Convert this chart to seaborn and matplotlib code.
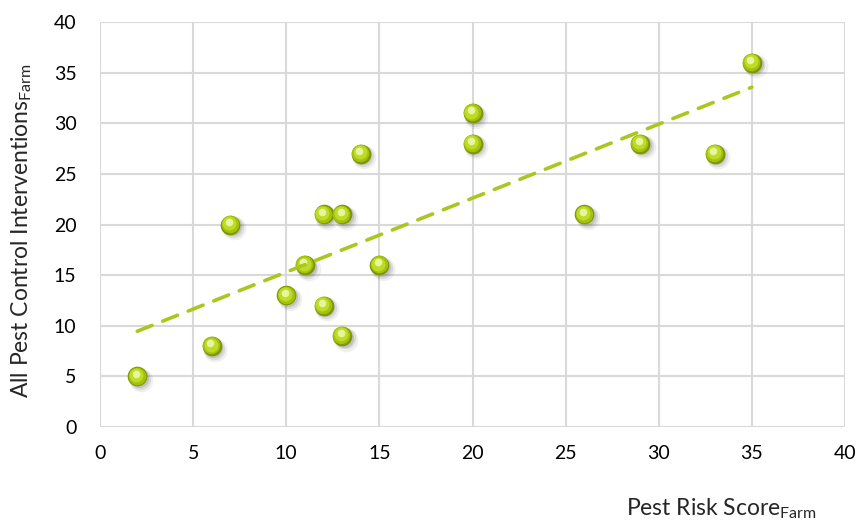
import numpy as np
import pandas as pd
import matplotlib
matplotlib.use("Agg")
import matplotlib.pyplot as plt
import seaborn as sns

# Farm observations
risk_score = [2, 6, 7, 10, 11, 12, 12, 13, 13, 14, 15, 20, 20, 26, 29, 33, 35]
interventions = [5, 8, 20, 13, 16, 21, 12, 21, 9, 27, 16, 31, 28, 21, 28, 27, 36]

x_ticks = [0, 5, 10, 15, 20, 25, 30, 35, 40]
y_ticks = [0, 5, 10, 15, 20, 25, 30, 35, 40]

df = pd.DataFrame({"risk": risk_score, "interventions": interventions})

sns.set_theme(style="white")
plt.rcParams["font.family"] = ["Lato", "DejaVu Sans"]
plt.rcParams["mathtext.fontset"] = "custom"
plt.rcParams["mathtext.rm"] = "Lato"

fig = plt.figure(figsize=(8.61, 5.25), dpi=100)
ax = fig.add_axes([100 / 861, 98 / 525, 745 / 861, 405 / 525])

ax.set_xlim(0, 40)
ax.set_ylim(0, 40)
ax.set_xticks(x_ticks)
ax.set_yticks(y_ticks)
ax.grid(True, color="#d9d9d9", linewidth=1.5)
for s in ax.spines.values():
    s.set_visible(False)
ax.tick_params(axis="both", length=0, labelsize=14, colors="#000000")
ax.tick_params(axis="x", pad=13)
ax.tick_params(axis="y", pad=17)

x = np.array(risk_score, dtype=float)
y = np.array(interventions, dtype=float)

# Soft drop shadow under each ball
for off, alpha, size in [(0.20, 0.08, 290), (0.14, 0.12, 235), (0.09, 0.16, 190)]:
    sns.scatterplot(x=x + off, y=y - off * 1.8, ax=ax, s=size, color="#404040",
                    alpha=alpha, linewidth=0, legend=False, zorder=4)

# Shaded sphere markers
sns.scatterplot(data=df, x="risk", y="interventions", ax=ax, s=200,
                color="#7c9604", linewidth=0, legend=False, zorder=5)
sns.scatterplot(x=x - 0.04, y=y + 0.08, ax=ax, s=160, color="#a3c20c",
                linewidth=0, legend=False, zorder=6)
sns.scatterplot(x=x - 0.06, y=y + 0.14, ax=ax, s=100, color="#c0db25",
                linewidth=0, legend=False, zorder=7)
sns.scatterplot(x=x - 0.08, y=y + 0.28, ax=ax, s=30, color="#e8f5a0",
                linewidth=0, legend=False, zorder=8)

# Linear trend line, drawn over the markers
sns.regplot(data=df, x="risk", y="interventions", scatter=False, ci=None, ax=ax,
            line_kws=dict(color="#a9c71f", linewidth=2.6, linestyle=(0, (4.4, 3.2)),
                          dash_capstyle="round", zorder=10))

ax.set_xlabel(r"Pest Risk Score$_{\mathrm{Farm}}$", fontsize=16.5)
ax.xaxis.set_label_coords(0.834, -0.17)
ax.set_ylabel(r"All Pest Control Interventions$_{\mathrm{Farm}}$", fontsize=16.5)
ax.yaxis.set_label_coords(-0.088, 0.485)

fig.savefig("out.png", dpi=100)
